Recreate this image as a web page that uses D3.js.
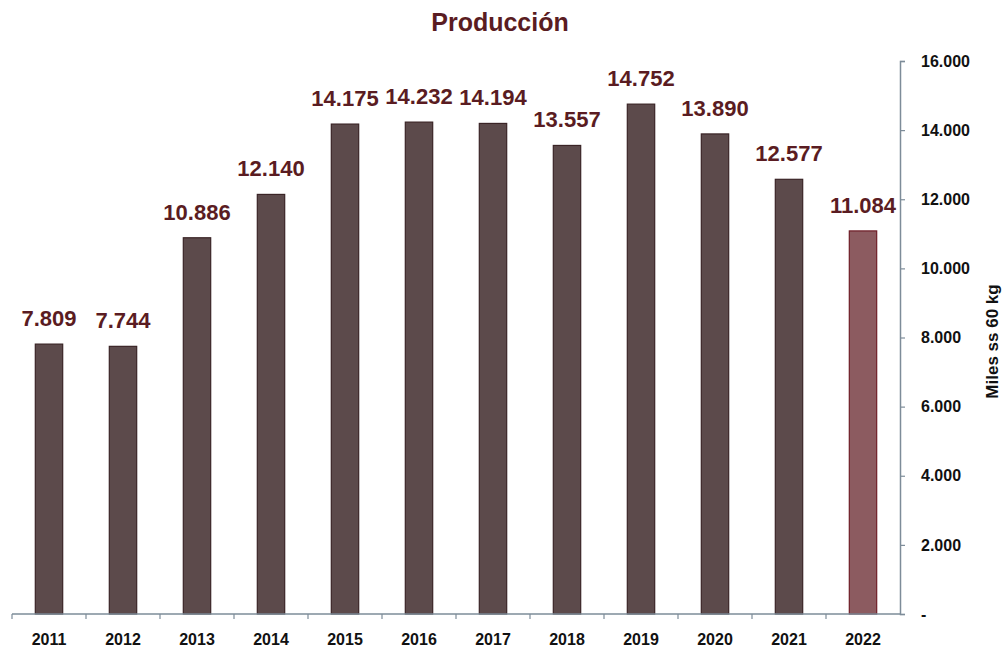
<!DOCTYPE html>
<html>
<head>
<meta charset="utf-8">
<script src="https://cdn.jsdelivr.net/npm/d3@7"></script>
<style>
  body { margin: 0; background: #fff; }
  text { font-family: "Liberation Sans", Arial, sans-serif; font-weight: bold; }
</style>
</head>
<body>
<div id="vis"></div>
<script>
/* Data */
var years = ["2011","2012","2013","2014","2015","2016","2017","2018","2019","2020","2021","2022"];
var production = [7809, 7744, 10886, 12140, 14175, 14232, 14194, 13557, 14752, 13890, 12577, 11084];
var yTicks = [0, 2000, 4000, 6000, 8000, 10000, 12000, 14000, 16000];

var W = 1005, H = 649;
var margin = { top: 61, right: 105, bottom: 35, left: 12 };
var width = W - margin.left - margin.right,
    height = H - margin.top - margin.bottom;

var svg = d3.select("#vis").append("svg").attr("width", W).attr("height", H);

/* Title */
svg.append("text").attr("x", 500).attr("y", 31).attr("text-anchor", "middle")
    .style("font-size", "25px").attr("fill", "#5a1c22").text("Producción");

var chart = svg.append("g").attr("transform", "translate(" + margin.left + "," + margin.top + ")");

/* Scales */
var x = d3.scaleBand().domain(years).range([0, width]).paddingInner(0.63).paddingOuter(0.315);
var y = d3.scaleLinear().domain([0, 16000]).range([height, 0]);

var fmt = function (v) { return v === 0 ? "-" : d3.format(",")(v).replace(/,/g, "."); };

/* Bars */
chart.selectAll(".bar").data(production).enter().append("rect")
    .attr("x", function (d, i) { return x(years[i]); })
    .attr("y", function (d) { return y(d); })
    .attr("width", x.bandwidth())
    .attr("height", function (d) { return height - y(d); })
    .attr("fill", function (d, i) { return i === years.length - 1 ? "#8c5b60" : "#5c4a4b"; })
    .attr("stroke", function (d, i) { return i === years.length - 1 ? "#6e1c26" : "#3a2426"; })
    .attr("stroke-width", 1.2);

/* Value labels */
chart.selectAll(".lbl").data(production).enter().append("text")
    .attr("x", function (d, i) { return x(years[i]) + x.bandwidth() / 2; })
    .attr("y", function (d) { return y(d) - 18; })
    .attr("text-anchor", "middle")
    .style("font-size", "22px")
    .attr("fill", "#5a1c22")
    .text(function (d) { return fmt(d); });

/* X axis */
var xAxisG = chart.append("g").attr("transform", "translate(0," + height + ")");
xAxisG.append("line").attr("x1", 0).attr("x2", width).attr("stroke", "#7d8c99").attr("stroke-width", 1.5);
xAxisG.selectAll(".xt").data(d3.range(years.length)).enter().append("line")
    .attr("x1", function (i) { return x(years[i]) - x.step() * x.paddingInner() / 2; })
    .attr("x2", function (i) { return x(years[i]) - x.step() * x.paddingInner() / 2; })
    .attr("y1", 0).attr("y2", 5).attr("stroke", "#7d8c99").attr("stroke-width", 1.2);
xAxisG.selectAll(".xl").data(years).enter().append("text")
    .attr("x", function (d) { return x(d) + x.bandwidth() / 2; })
    .attr("y", 31).attr("text-anchor", "middle")
    .style("font-size", "16px").attr("fill", "#111").text(function (d) { return d; });

/* Y axis (right) */
var yAxis = d3.axisRight(y).tickValues(yTicks).tickSize(5).tickPadding(16).tickFormat(fmt);
var yAxisG = chart.append("g").attr("transform", "translate(" + width + ",0)").call(yAxis);
yAxisG.select(".domain").attr("stroke", "#7d8c99").attr("stroke-width", 1.5);
yAxisG.selectAll(".tick line").attr("stroke", "#7d8c99").attr("stroke-width", 1.2);
yAxisG.selectAll(".tick text").style("font-size", "16px").style("font-family", "Liberation Sans, Arial, sans-serif")
    .style("font-weight", "bold").attr("fill", "#111");

/* Y axis title */
svg.append("text")
    .attr("transform", "translate(998," + (margin.top + height / 2 + 4) + ") rotate(-90)")
    .attr("text-anchor", "middle")
    .style("font-size", "17px").attr("fill", "#111").text("Miles ss 60 kg");
</script>
</body>
</html>
